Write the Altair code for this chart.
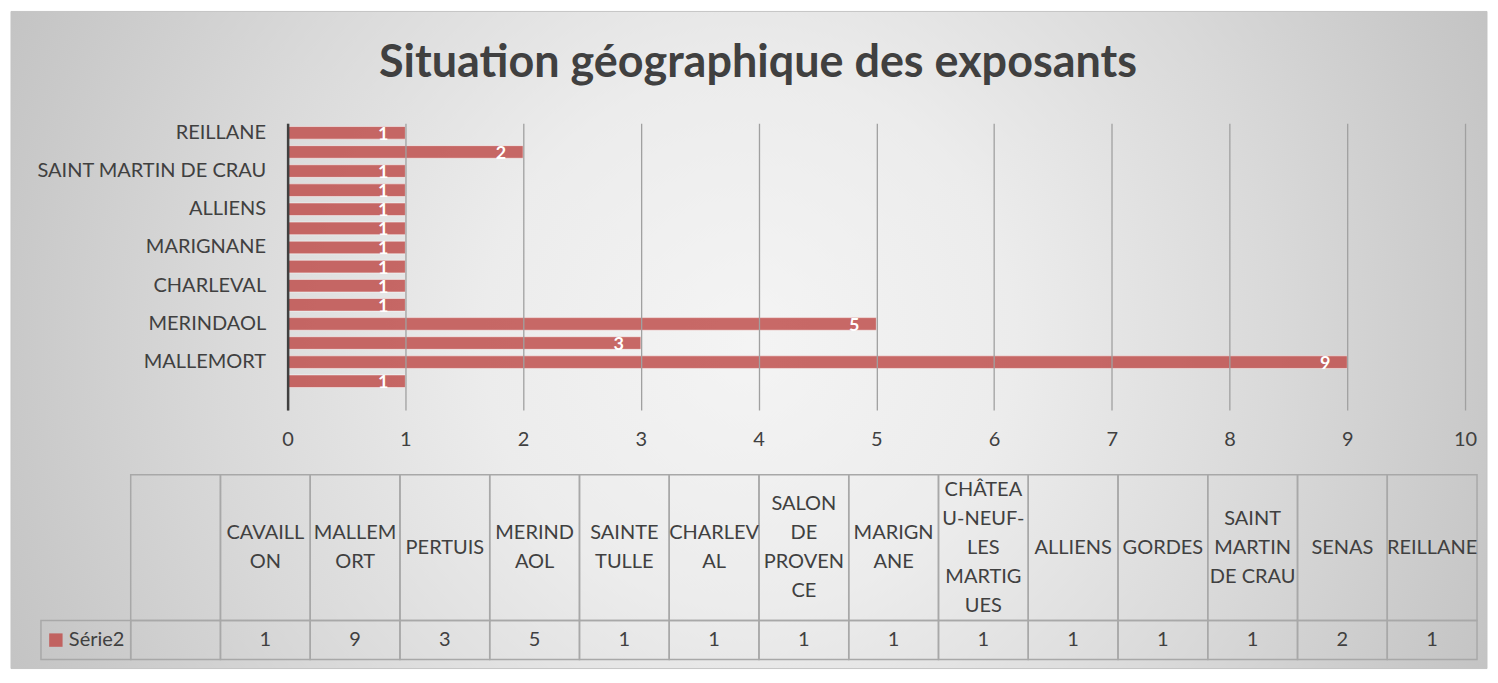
import altair as alt
import pandas as pd

title_text = "Situation géographique des exposants"
series_name = "Série2"
categories = ["", "CAVAILLON", "MALLEMORT", "PERTUIS", "MERINDAOL", "SAINTE TULLE",
              "CHARLEVAL", "SALON DE PROVENCE", "MARIGNANE", "CHÂTEAU-NEUF-LES MARTIGUES",
              "ALLIENS", "GORDES", "SAINT MARTIN DE CRAU", "SENAS", "REILLANE"]
header_labels = ["", "CAVAILL\nON", "MALLEM\nORT", "PERTUIS", "MERIND\nAOL", "SAINTE\nTULLE",
                 "CHARLEV\nAL", "SALON\nDE\nPROVEN\nCE", "MARIGN\nANE",
                 "CHÂTEA\nU-NEUF-\nLES\nMARTIG\nUES", "ALLIENS", "GORDES",
                 "SAINT\nMARTIN\nDE CRAU", "SENAS", "REILLANE"]
values = [None, 1, 9, 3, 5, 1, 1, 1, 1, 1, 1, 1, 1, 2, 1]
x_ticks = [0, 1, 2, 3, 4, 5, 6, 7, 8, 9, 10]

FONT = "Lato"
TXT = "#404040"
BAR = "#c0504d"
GRID = "#a0a0a0"
CELL = "#a8a8a8"
FS = 20
LH = 29
HEAD_H = 146
ROW_H = 39

val_txt = ["" if v is None else str(v) for v in values]
df = pd.DataFrame({"cat": categories, "val": values, "head": header_labels})
table_domain = [series_name] + categories
df_row = pd.DataFrame({"cat": table_domain, "txt": [""] + val_txt})

# ---------- bar chart ----------
y_enc = alt.Y("cat:N",
              scale=alt.Scale(domain=categories[::-1], paddingInner=0.34, paddingOuter=0.17),
              axis=alt.Axis(values=categories[::2], title=None, ticks=False,
                            domainColor="#404040", domainWidth=2.5, grid=False,
                            labelFont=FONT, labelFontSize=FS, labelColor=TXT,
                            labelPadding=22, labelLimit=400, zindex=1))
x_enc = alt.X("val:Q",
              scale=alt.Scale(domain=[0, 10], nice=False),
              axis=alt.Axis(values=x_ticks, title=None, ticks=False, domain=False,
                            grid=True, gridColor=GRID, gridWidth=1.3, format="d",
                            labelFlush=False,
                            labelFont=FONT, labelFontSize=FS, labelColor=TXT,
                            labelPadding=20, zindex=1))

gradient = alt.RadialGradient(
    gradient="radial",
    stops=[alt.GradientStop(offset=0, color="#f4f4f4"),
           alt.GradientStop(offset=0.3, color="#ececec"),
           alt.GradientStop(offset=0.6, color="#d9d9d9"),
           alt.GradientStop(offset=0.83, color="#c9c9c9"),
           alt.GradientStop(offset=1, color="#bebebe")],
    x1=0.5, y1=0.5, r1=0, x2=0.5, y2=0.5, r2=0.6)

bg = alt.Chart(alt.Data(values=[{}])).mark_rect(
    fill=gradient, stroke="#c4c4c4", strokeWidth=1
).encode(x=alt.value(-277), x2=alt.value(1201), y=alt.value(-112), y2=alt.value(546))

title = alt.Chart(alt.Data(values=[{}])).mark_text(
    text=title_text, font=FONT, fontSize=45, fontWeight="bold", color=TXT,
    align="center", baseline="middle"
).encode(x=alt.value(471), y=alt.value(-60))

bars = alt.Chart(df).mark_bar(
    color=BAR, fillOpacity=0.85, stroke="white", strokeOpacity=0.5, strokeWidth=1
).encode(x=x_enc, y=y_enc)

labels = alt.Chart(df).transform_filter("datum.val != null").mark_text(
    align="right", baseline="middle", dx=-17, dy=2, color="white",
    fontWeight="bold", fontSize=18, font=FONT
).encode(x=alt.X("val:Q"), y=alt.Y("cat:N"), text=alt.Text("val:Q", format="d"))

bar_chart = alt.layer(bg, bars, labels, title).properties(width=1179, height=287)

# ---------- data table ----------
tx_scale = alt.Scale(domain=table_domain, range=[-247, 1191], paddingInner=0, paddingOuter=0)

head_cells = alt.Chart(df).mark_rect(filled=False, stroke=CELL, strokeWidth=1.5).encode(
    x=alt.X("cat:N", scale=tx_scale, axis=None))
head_text = alt.Chart(df).transform_calculate(
    ty=f"{HEAD_H / 2} - (length(split(datum.head, '\\n')) - 1) * {LH / 2}"
).mark_text(
    font=FONT, fontSize=FS, color=TXT, lineBreak="\n", lineHeight=LH,
    align="center", baseline="middle"
).encode(x=alt.X("cat:N", scale=tx_scale, axis=None),
         y=alt.Y("ty:Q", scale=None, axis=None),
         text="head:N")
header = alt.layer(head_cells, head_text).properties(width=1191, height=HEAD_H)

row_cells = alt.Chart(df_row).mark_rect(filled=False, stroke=CELL, strokeWidth=1.5).encode(
    x=alt.X("cat:N", scale=tx_scale, axis=None))
row_text = alt.Chart(df_row).mark_text(
    font=FONT, fontSize=FS, color=TXT, align="center", baseline="middle"
).encode(x=alt.X("cat:N", scale=tx_scale, axis=None), text="txt:N")
legend_sq = alt.Chart(alt.Data(values=[{"cat": series_name}])).mark_square(
    size=180, color=BAR, opacity=0.85, xOffset=-30
).encode(x=alt.X("cat:N", scale=tx_scale, axis=None))
legend_txt = alt.Chart(alt.Data(values=[{"cat": series_name}])).mark_text(
    font=FONT, fontSize=FS, color=TXT, align="left", baseline="middle", dx=-17
).encode(x=alt.X("cat:N", scale=tx_scale, axis=None), text="cat:N")
value_row = alt.layer(row_cells, row_text, legend_sq, legend_txt).properties(width=1191, height=ROW_H)

table = alt.vconcat(header, value_row, spacing=0, bounds="flush")

chart = alt.vconcat(bar_chart, table, spacing=65, bounds="flush").properties(
    padding=2, background="white"
).configure_view(stroke=None)

chart.save("out.html", embed_options={"renderer": "svg", "actions": False})
